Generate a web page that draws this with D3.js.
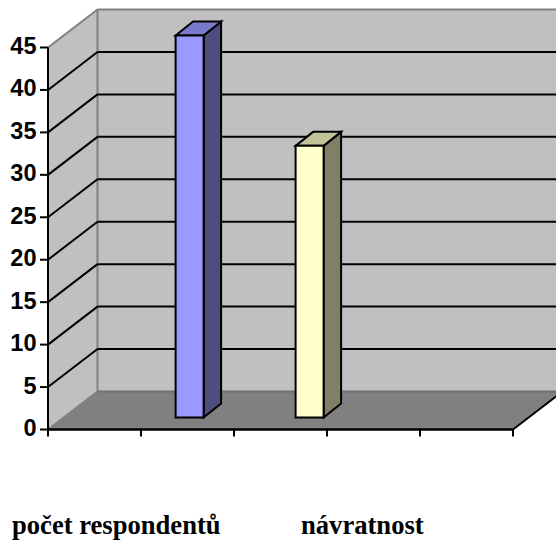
<!DOCTYPE html>
<html><head><meta charset="utf-8">
<script src="https://cdn.jsdelivr.net/npm/d3@7/dist/d3.min.js"></script>
<style>html,body{margin:0;padding:0;background:#fff}svg{display:block}</style></head>
<body><svg id="c" width="556" height="541"></svg>
<script>
const categories = ["počet respondentů", "návratnost"];
const values = [45, 32];
const yTicks = [0,5,10,15,20,25,30,35,40,45];
const xSlots = [0,1,2,3,4,5];
const barFill = ["#9999ff", "#ffffcc"];
const barTop = ["#7a7acc", "#c2c29b"];
const barSide = ["#4d4d80", "#808066"];

const svg = d3.select("#c");
const y = d3.scaleLinear().domain([0,45]).range([429.5,47.5]);
const x = d3.scaleLinear().domain([0,5]).range([48,513]);
const band = d3.scaleBand().domain(categories).range([160,308]).paddingInner(92/120).paddingOuter(0);
const depth = {dx:49.5, dy:-38};
const barD = {fx:15.6, fy:-12, dx:17.5, dy:-14};
const pts = a => a.map(p=>p.join(",")).join(" ");
const poly = (a,fill,stroke,sw)=>svg.append("polygon").attr("points",pts(a)).attr("fill",fill).attr("stroke",stroke||"none").attr("stroke-width",sw||0).attr("stroke-linejoin","miter");
const line = (x1,y1,x2,y2,c,w)=>svg.append("line").attr("x1",x1).attr("y1",y1).attr("x2",x2).attr("y2",y2).attr("stroke",c).attr("stroke-width",w);

const x0=x(0), x1=x(5), y0=y(0), yT=y(45);
poly([[x0+depth.dx,yT+depth.dy],[x1+depth.dx,yT+depth.dy],[x1+depth.dx,y0+depth.dy],[x0+depth.dx,y0+depth.dy]],"#c0c0c0");
poly([[x0,yT],[x0+depth.dx,yT+depth.dy],[x0+depth.dx,y0+depth.dy],[x0,y0]],"#c0c0c0");
poly([[x0,y0],[x0+depth.dx,y0+depth.dy],[x1+depth.dx,y0+depth.dy],[x1,y0]],"#808080");
line(x0+depth.dx,yT+depth.dy,x1+depth.dx,yT+depth.dy,"#808080",2);
line(x0+depth.dx,yT+depth.dy,x0+depth.dx,y0+depth.dy,"#808080",2);
line(x0+depth.dx,y0+depth.dy,x1+depth.dx,y0+depth.dy,"#707070",2);
line(x0,yT,x0+depth.dx,yT+depth.dy,"#808080",2);
line(x0,y0,x0+depth.dx,y0+depth.dy,"#808080",2);
yTicks.filter(t=>t>0&&t<45).forEach(t=>{
  const py=y(t);
  line(x0,py,x0+depth.dx,py+depth.dy,"#000",2);
  line(x0+depth.dx,py+depth.dy,x1+depth.dx,py+depth.dy,"#000",2);
});
line(x1,y0,x1+depth.dx,y0+depth.dy,"#000",2);
line(x0,yT,x0,y0+1,"#000",2);
line(x0,y0,x1,y0,"#000",2.5);
yTicks.forEach(t=>line(x0-8,y(t),x0,y(t),"#000",2));
xSlots.forEach(s=>line(x(s),y0,x(s),y0+7,"#000",2));
svg.selectAll("text.y").data(yTicks).join("text").attr("class","y")
  .attr("x",36.5).attr("y",t=>y(t)+6.5).attr("text-anchor","end")
  .attr("font-family","Liberation Sans").attr("font-weight","bold").attr("font-size",23.5)
  .attr("fill","#000").text(d=>d);
categories.forEach((c,i)=>{
  const l=band(c)+barD.fx, r=l+band.bandwidth(), b=y0+barD.fy, t=y(values[i])+barD.fy;
  poly([[r,t],[r+barD.dx,t+barD.dy],[r+barD.dx,b+barD.dy],[r,b]],barSide[i],"#000",2);
  poly([[l,t],[l+barD.dx,t+barD.dy],[r+barD.dx,t+barD.dy],[r,t]],barTop[i],"#000",2);
  poly([[l,t],[r,t],[r,b],[l,b]],barFill[i],"#000",2);
});
const labelX=[12,301];
svg.selectAll("text.c").data(categories).join("text").attr("class","c")
  .attr("x",(d,i)=>labelX[i]).attr("y",534)
  .attr("font-family","Liberation Serif").attr("font-weight","bold").attr("font-size",26.6)
  .attr("fill","#000").text(d=>d);
</script></body></html>
